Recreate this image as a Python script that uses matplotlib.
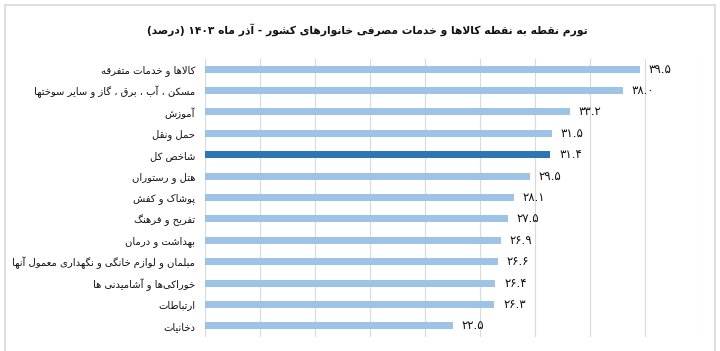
import re
import matplotlib
matplotlib.use("Agg")
import matplotlib.pyplot as plt
from matplotlib.patches import Rectangle

plt.rcParams['font.family'] = ['DejaVu Sans']

title = "تورم نقطه به نقطه کالاها و خدمات مصرفی خانوارهای کشور - آذر ماه ۱۴۰۳ (درصد)"
categories = [
    "کالاها و خدمات متفرقه",
    "مسکن ، آب ، برق ، گاز و سایر سوختها",
    "آموزش",
    "حمل ونقل",
    "شاخص کل",
    "هتل و رستوران",
    "پوشاک و کفش",
    "تفریح و فرهنگ",
    "بهداشت و درمان",
    "مبلمان و لوازم خانگی و نگهداری معمول آنها",
    "خوراکی‌ها و آشامیدنی ها",
    "ارتباطات",
    "دخانیات",
]
values = [39.5, 38.0, 33.2, 31.5, 31.4, 29.5, 28.1, 27.5, 26.9, 26.6, 26.4, 26.3, 22.5]
highlight = "شاخص کل"

# ---- minimal Arabic/Persian shaping + visual reordering ----
FORMS = {
    'ا': ('\uFE8D', '\uFE8E', None, None),
    'آ': ('\uFE81', '\uFE82', None, None),
    'ب': ('\uFE8F', '\uFE90', '\uFE91', '\uFE92'),
    'پ': ('\uFB56', '\uFB57', '\uFB58', '\uFB59'),
    'ت': ('\uFE95', '\uFE96', '\uFE97', '\uFE98'),
    'ث': ('\uFE99', '\uFE9A', '\uFE9B', '\uFE9C'),
    'ج': ('\uFE9D', '\uFE9E', '\uFE9F', '\uFEA0'),
    'چ': ('\uFB7A', '\uFB7B', '\uFB7C', '\uFB7D'),
    'ح': ('\uFEA1', '\uFEA2', '\uFEA3', '\uFEA4'),
    'خ': ('\uFEA5', '\uFEA6', '\uFEA7', '\uFEA8'),
    'د': ('\uFEA9', '\uFEAA', None, None),
    'ذ': ('\uFEAB', '\uFEAC', None, None),
    'ر': ('\uFEAD', '\uFEAE', None, None),
    'ز': ('\uFEAF', '\uFEB0', None, None),
    'ژ': ('\uFB8A', '\uFB8B', None, None),
    'س': ('\uFEB1', '\uFEB2', '\uFEB3', '\uFEB4'),
    'ش': ('\uFEB5', '\uFEB6', '\uFEB7', '\uFEB8'),
    'ص': ('\uFEB9', '\uFEBA', '\uFEBB', '\uFEBC'),
    'ض': ('\uFEBD', '\uFEBE', '\uFEBF', '\uFEC0'),
    'ط': ('\uFEC1', '\uFEC2', '\uFEC3', '\uFEC4'),
    'ظ': ('\uFEC5', '\uFEC6', '\uFEC7', '\uFEC8'),
    'ع': ('\uFEC9', '\uFECA', '\uFECB', '\uFECC'),
    'غ': ('\uFECD', '\uFECE', '\uFECF', '\uFED0'),
    'ف': ('\uFED1', '\uFED2', '\uFED3', '\uFED4'),
    'ق': ('\uFED5', '\uFED6', '\uFED7', '\uFED8'),
    'ک': ('\uFB8E', '\uFB8F', '\uFB90', '\uFB91'),
    'گ': ('\uFB92', '\uFB93', '\uFB94', '\uFB95'),
    'ل': ('\uFEDD', '\uFEDE', '\uFEDF', '\uFEE0'),
    'م': ('\uFEE1', '\uFEE2', '\uFEE3', '\uFEE4'),
    'ن': ('\uFEE5', '\uFEE6', '\uFEE7', '\uFEE8'),
    'و': ('\uFEED', '\uFEEE', None, None),
    'ه': ('\uFEE9', '\uFEEA', '\uFEEB', '\uFEEC'),
    'ی': ('\uFBFC', '\uFBFD', '\uFBFE', '\uFBFF'),
}
LAMALEF = {'ا': ('\uFEFB', '\uFEFC'), 'آ': ('\uFEF5', '\uFEF6')}


def _dual(c):
    return c in FORMS and FORMS[c][2] is not None


def shape(text):
    out = []
    n = len(text)
    i = 0
    while i < n:
        c = text[i]
        if c not in FORMS:
            if c != '\u200c':
                out.append(c)
            i += 1
            continue
        prev = text[i - 1] if i > 0 else None
        jp = prev is not None and _dual(prev)
        if c == 'ل' and i + 1 < n and text[i + 1] in LAMALEF:
            lig = LAMALEF[text[i + 1]]
            out.append(lig[1] if jp else lig[0])
            i += 2
            continue
        nxt = text[i + 1] if i + 1 < n else None
        jn = _dual(c) and nxt is not None and nxt in FORMS
        f = FORMS[c]
        if jp and jn:
            g = f[3]
        elif jp:
            g = f[1]
        elif jn:
            g = f[2]
        else:
            g = f[0]
        out.append(g)
        i += 1
    return ''.join(out)


def rtl(text):
    s = shape(text)
    toks = re.findall(r'[0-9\u06F0-\u06F9]+(?:[.][0-9\u06F0-\u06F9]+)*|.', s)
    toks = toks[::-1]
    mirror = {'(': ')', ')': '('}
    return ''.join(mirror.get(t, t) for t in toks)


def fa_num(v):
    s = f"{v:.1f}"
    return s.translate(str.maketrans('0123456789', '۰۱۲۳۴۵۶۷۸۹'))


# ---- figure ----
fig = plt.figure(figsize=(7.2, 3.51), dpi=100)
ax = fig.add_axes([205 / 720, 1 - 336.5 / 351, (700 - 205) / 720, (336.5 - 58.5) / 351])

light = '#9DC3E6'
dark = '#2E75B6'
ypos = list(range(len(categories)))
colors = [dark if c == highlight else light for c in categories]
ax.barh(ypos, values, height=0.33, color=colors, zorder=3)

ax.set_xlim(0, 45)
ax.set_ylim(len(categories) - 0.5, -0.5)
ax.set_xticks(range(0, 46, 5))
ax.tick_params(axis='x', length=0, labelbottom=False)
ax.tick_params(axis='y', length=0, pad=7)
ax.set_yticks(ypos)
ax.set_yticklabels([rtl(c) for c in categories], fontsize=7.2, color='#111111')
ax.grid(axis='x', color='#d9d9d9', linewidth=0.8, zorder=0)
for s in ax.spines.values():
    s.set_visible(False)

for y, v in zip(ypos, values):
    ax.text(v + 0.8, y, fa_num(v), va='center', ha='left', fontsize=8.5, color='#111111')

fig.text(367 / 720, 1 - 30 / 351, rtl(title), ha='center', va='center',
         fontsize=7.7, fontweight='bold', color='#111111')

fig.patches.append(Rectangle((5 / 720, -0.05), (715 - 5) / 720, (351 - 5) / 351 + 0.05,
                             transform=fig.transFigure, fill=False,
                             edgecolor='#d9d9d9', linewidth=1.2))

fig.savefig('out.png', dpi=100)
